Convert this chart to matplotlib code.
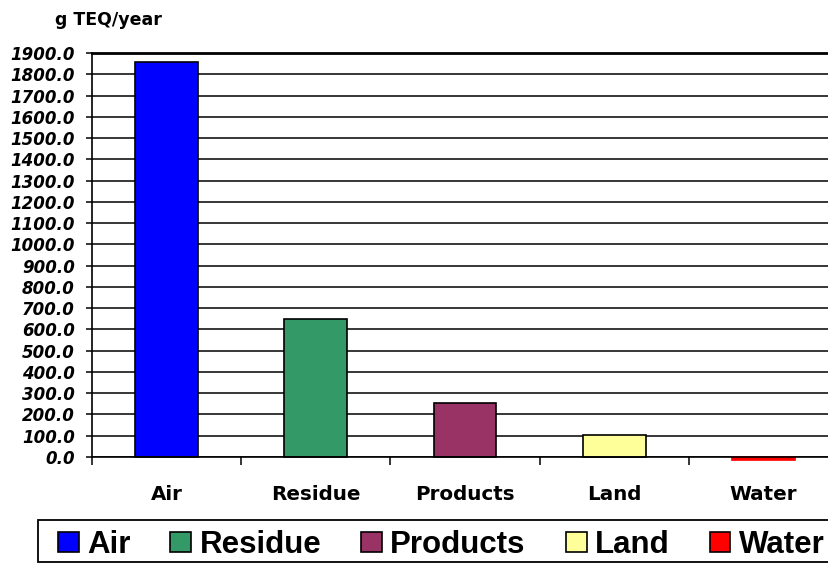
import matplotlib
matplotlib.use("Agg")
import matplotlib.pyplot as plt
import numpy as np
from matplotlib.patches import Patch, Rectangle

# Releases by medium, g TEQ per year
categories = ["Air", "Residue", "Products", "Land", "Water"]
releases = [1860.0, 648.0, 255.0, 104.0, -12.0]
bar_colors = ["#0000FF", "#339966", "#993366", "#FFFF99", "#FF0000"]
y_ticks = np.arange(0, 2000, 100)


def plot_releases(output_file="out.png"):
    """
    Bar chart of annual releases per medium with a legend strip below.
    """
    fig = plt.figure(figsize=(8.29, 5.63), dpi=100)
    W, H = 829.0, 563.0

    # Plot area runs slightly past the right edge of the canvas
    ax = fig.add_axes([92 / W, 1 - 457 / H, 746 / W, 404 / H])

    x = np.arange(len(categories))
    edges = ["black", "black", "black", "black", "#FF0000"]
    bars = ax.bar(x, releases, width=0.42, color=bar_colors,
                  edgecolor=edges, linewidth=1.2, zorder=3)
    for b in bars:
        b.set_clip_on(False)  # the negative bar hangs below the axis

    ax.set_xlim(-0.5, len(categories) - 0.5)
    ax.set_ylim(0, 1900)

    # Horizontal gridlines at every 100
    ax.set_yticks(y_ticks)
    ax.set_yticklabels([f"{v:.1f}" for v in y_ticks],
                       family="DejaVu Sans", fontweight="bold",
                       fontstyle="italic", fontsize=12)
    ax.yaxis.grid(True, color="black", linewidth=1.1, zorder=1)
    ax.tick_params(axis="y", direction="out", length=4.3, width=1.1,
                   pad=8, color="black")

    # Category names centred, tick marks between categories
    ax.set_xticks(x)
    ax.set_xticklabels(categories, family="DejaVu Sans",
                       fontweight="bold", fontsize=14.3)
    ax.tick_params(axis="x", which="major", length=0, pad=20)
    ax.set_xticks(np.arange(-0.5, len(categories)), minor=True)
    ax.tick_params(axis="x", which="minor", direction="out", length=5.8,
                   width=1.1, color="black")

    ax.spines["right"].set_visible(False)
    ax.spines["top"].set_linewidth(2.0)
    ax.spines["left"].set_linewidth(1.2)
    ax.spines["bottom"].set_linewidth(1.2)
    for s in ax.spines.values():
        s.set_color("black")
        s.set_zorder(4)

    # Unit label above the axis
    fig.text(55 / W, 1 - 20 / H, "g TEQ/year", family="DejaVu Sans",
             fontweight="bold", fontsize=12.5, ha="left", va="center")

    # Legend strip along the bottom: box drawn separately, entries inside
    box = Rectangle((38 / W, 1 - 562 / H), 800 / W, 42 / H,
                    transform=fig.transFigure, facecolor="white",
                    edgecolor="black", linewidth=1.3)
    fig.patches.append(box)

    handles = [Patch(facecolor=c, edgecolor="black", linewidth=1.2)
               for c in bar_colors]
    fig.legend(handles, categories, loc="center left",
               bbox_to_anchor=(58 / W, 1 - 545 / H),
               bbox_transform=fig.transFigure, ncol=5,
               prop={"family": "Liberation Sans", "weight": "bold",
                     "size": 22.5},
               handlelength=0.67, handleheight=0.64,
               handletextpad=0.26, columnspacing=1.28,
               borderpad=0, borderaxespad=0, frameon=False)

    plt.savefig(output_file, dpi=100)


def main():
    plot_releases("out.png")


if __name__ == "__main__":
    main()
